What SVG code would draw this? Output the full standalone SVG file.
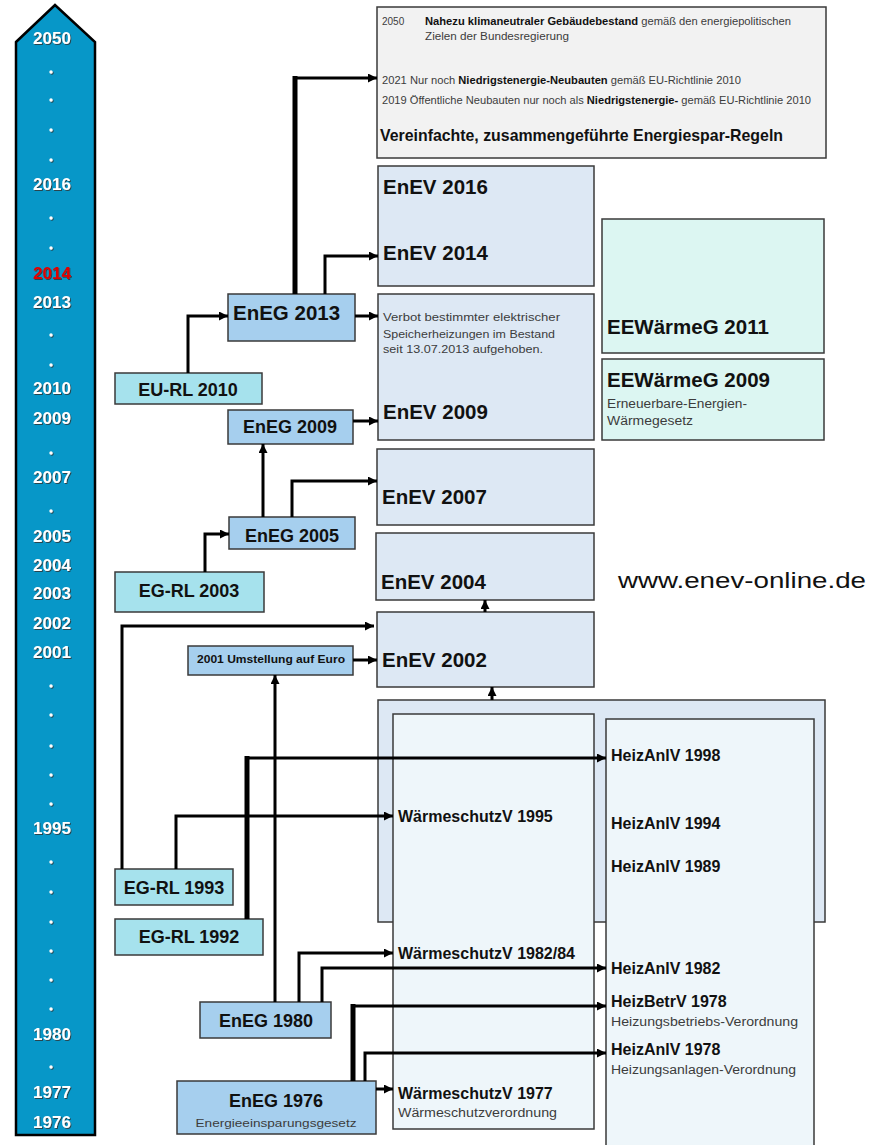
<svg xmlns="http://www.w3.org/2000/svg" width="871" height="1145" viewBox="0 0 871 1145">
<defs>
<style>
text{font-family:"Liberation Sans",Arial,sans-serif;fill:#111}
.b{font-weight:bold}
.yr{font-weight:bold;font-size:17px;fill:#fff;text-anchor:middle}
.red{fill:#e00000}
.dot{fill:#fff}
.bx{stroke:#3a3a3a;stroke-width:1.5}
.eneg{fill:#a6cfee}
.rl{fill:#a6e2ed}
.enev{fill:#dde8f4}
.ee{fill:#dcf6f2}
.inner{fill:#eef6fa}
.grey{fill:#f2f2f2}
.s{fill:#3c3c3c}
.h20{font-weight:bold;font-size:20.5px}
.h18{font-weight:bold;font-size:18px}
.h16{font-weight:bold;font-size:16px}
.c{text-anchor:middle}
.ln{fill:none;stroke:#000;stroke-width:3;stroke-linejoin:miter}
.thick{fill:none;stroke:#000;stroke-width:5}
</style>
<marker id="ah" markerUnits="userSpaceOnUse" markerWidth="9" markerHeight="9" refX="9" refY="4.5" orient="auto">
<path d="M0,0 L9,4.5 L0,9 z" fill="#000"/>
</marker>
<filter id="sh" x="-10%" y="-10%" width="130%" height="140%">
<feDropShadow dx="1" dy="1" stdDeviation="0.6" flood-color="#333" flood-opacity="0.8"/>
</filter>
</defs>

<g id="timeline">
<polygon points="16,42 55,5 95,42 95,1135 16,1135" fill="#0797c8" stroke="#000" stroke-width="2.5"/>
<g filter="url(#sh)">
<text class="yr" x="52" y="44">2050</text>
<circle class="dot" cx="51" cy="72" r="1.7"/>
<circle class="dot" cx="51" cy="100" r="1.7"/>
<circle class="dot" cx="51" cy="130" r="1.7"/>
<circle class="dot" cx="51" cy="160" r="1.7"/>
<text class="yr" x="52" y="190">2016</text>
<circle class="dot" cx="51" cy="218" r="1.7"/>
<circle class="dot" cx="51" cy="248" r="1.7"/>
<text class="yr red" x="52" y="279">2014</text>
<text class="yr" x="52" y="308">2013</text>
<circle class="dot" cx="51" cy="335" r="1.7"/>
<circle class="dot" cx="51" cy="365" r="1.7"/>
<text class="yr" x="52" y="394">2010</text>
<text class="yr" x="52" y="424">2009</text>
<circle class="dot" cx="51" cy="453" r="1.7"/>
<text class="yr" x="52" y="483">2007</text>
<circle class="dot" cx="51" cy="511" r="1.7"/>
<text class="yr" x="52" y="542">2005</text>
<text class="yr" x="52" y="571">2004</text>
<text class="yr" x="52" y="599">2003</text>
<text class="yr" x="52" y="629">2002</text>
<text class="yr" x="52" y="658">2001</text>
<circle class="dot" cx="51" cy="686" r="1.7"/>
<circle class="dot" cx="51" cy="715" r="1.7"/>
<circle class="dot" cx="51" cy="746" r="1.7"/>
<circle class="dot" cx="51" cy="775" r="1.7"/>
<circle class="dot" cx="51" cy="804" r="1.7"/>
<text class="yr" x="52" y="834">1995</text>
<circle class="dot" cx="51" cy="862" r="1.7"/>
<circle class="dot" cx="51" cy="892" r="1.7"/>
<circle class="dot" cx="51" cy="922" r="1.7"/>
<circle class="dot" cx="51" cy="951" r="1.7"/>
<circle class="dot" cx="51" cy="980" r="1.7"/>
<circle class="dot" cx="51" cy="1009" r="1.7"/>
<text class="yr" x="52" y="1040">1980</text>
<circle class="dot" cx="51" cy="1067" r="1.7"/>
<text class="yr" x="52" y="1098">1977</text>
<text class="yr" x="52" y="1128">1976</text>
</g>
</g>

<g id="ziele2050">
<rect class="bx grey" x="377" y="7" width="449" height="151"/>
<text class="s" x="382" y="25" font-size="10">2050</text>
<text class="s" x="425" y="25" font-size="10" textLength="366" lengthAdjust="spacingAndGlyphs"><tspan class="b" fill="#111">Nahezu klimaneutraler Gebäudebestand</tspan> gemäß den energiepolitischen</text>
<text class="s" x="425" y="40" font-size="10" textLength="144" lengthAdjust="spacingAndGlyphs">Zielen  der  Bundesregierung</text>
<text class="s" x="382" y="84" font-size="10" textLength="359" lengthAdjust="spacingAndGlyphs">2021   Nur noch <tspan class="b" fill="#111">Niedrigstenergie-Neubauten</tspan> gemäß EU-Richtlinie 2010</text>
<text class="s" x="382" y="104" font-size="10" textLength="429" lengthAdjust="spacingAndGlyphs">2019 Öffentliche Neubauten nur noch als <tspan class="b" fill="#111">Niedrigstenergie-</tspan> gemäß EU-Richtlinie 2010</text>
<text class="b" x="380" y="141" font-size="17" textLength="403" lengthAdjust="spacingAndGlyphs">Vereinfachte, zusammengeführte Energiespar-Regeln</text>
</g>

<g id="enev2016">
<rect class="bx enev" x="378" y="166" width="216" height="120"/>
<text class="h20" x="383" y="194">EnEV 2016</text>
<text class="h20" x="383" y="260">EnEV 2014</text>
</g>

<g id="enev2009">
<rect class="bx enev" x="378" y="294" width="216" height="146"/>
<text class="s" x="383" y="321" font-size="11" textLength="177" lengthAdjust="spacingAndGlyphs">Verbot bestimmter elektrischer</text>
<text class="s" x="383" y="338" font-size="11" textLength="172" lengthAdjust="spacingAndGlyphs">Speicherheizungen im Bestand</text>
<text class="s" x="383" y="353" font-size="11" textLength="160" lengthAdjust="spacingAndGlyphs">seit 13.07.2013 aufgehoben.</text>
<text class="h20" x="383" y="419">EnEV 2009</text>
</g>

<g id="eewaermeg2011">
<rect class="bx ee" x="602" y="219" width="222" height="134"/>
<text class="b" x="607" y="334" font-size="20.5">EEWärmeG 2011</text>
</g>

<g id="eewaermeg2009">
<rect class="bx ee" x="602" y="359" width="222" height="81"/>
<text class="b" x="607" y="387" font-size="20.5">EEWärmeG 2009</text>
<text class="s" x="607" y="408" font-size="12" textLength="140" lengthAdjust="spacingAndGlyphs">Erneuerbare-Energien-</text>
<text class="s" x="607" y="425" font-size="12" textLength="86" lengthAdjust="spacingAndGlyphs">Wärmegesetz</text>
</g>

<g id="eneg2013">
<rect class="bx eneg" x="228" y="294" width="127" height="47"/>
<text class="h20" x="233" y="320">EnEG 2013</text>
</g>

<g id="eurl2010">
<rect class="bx rl" x="115" y="373" width="147" height="31"/>
<text class="h18 c" x="188" y="396">EU-RL 2010</text>
</g>

<g id="eneg2009">
<rect class="bx eneg" x="228" y="410" width="125" height="34"/>
<text class="h18 c" x="290" y="433">EnEG 2009</text>
</g>

<g id="enev2007">
<rect class="bx enev" x="377" y="449" width="217" height="76"/>
<text class="h20" x="382" y="504">EnEV 2007</text>
</g>

<g id="eneg2005">
<rect class="bx eneg" x="229" y="517" width="126" height="32"/>
<text class="h18 c" x="292" y="542">EnEG 2005</text>
</g>

<g id="egrl2003">
<rect class="bx rl" x="115" y="572" width="149" height="40"/>
<text class="h18 c" x="189" y="597">EG-RL 2003</text>
</g>

<g id="enev2004">
<rect class="bx enev" x="376" y="533" width="218" height="67"/>
<text class="h20" x="381" y="589">EnEV 2004</text>
</g>

<g id="enev2002">
<rect class="bx enev" x="377" y="612" width="217" height="75"/>
<text class="h20" x="382" y="667">EnEV 2002</text>
</g>

<g id="euro2001">
<rect class="bx eneg" x="188" y="646" width="165" height="29"/>
<text class="b c" x="271" y="663" font-size="10" textLength="148" lengthAdjust="spacingAndGlyphs">2001 Umstellung auf Euro</text>
</g>

<g id="www">
<text x="618" y="588" font-size="22" textLength="248" lengthAdjust="spacingAndGlyphs">www.enev-online.de</text>
</g>

<g id="gruppe">
<rect class="bx enev" x="378" y="700" width="447" height="222"/>
</g>

<g id="waermeschutzv">
<rect class="bx inner" x="393" y="714" width="201" height="415"/>
<text class="h16" x="398" y="822">WärmeschutzV 1995</text>
<text class="h16" x="398" y="959">WärmeschutzV 1982/84</text>
<text class="h16" x="398" y="1099">WärmeschutzV 1977</text>
<text class="s" x="398" y="1117" font-size="12" textLength="159" lengthAdjust="spacingAndGlyphs">Wärmeschutzverordnung</text>
</g>

<g id="heizanlv">
<rect class="bx inner" x="606" y="719" width="208" height="440"/>
<text class="h16" x="611" y="761">HeizAnlV 1998</text>
<text class="h16" x="611" y="829">HeizAnlV 1994</text>
<text class="h16" x="611" y="872">HeizAnlV 1989</text>
<text class="h16" x="611" y="974">HeizAnlV 1982</text>
<text class="h16" x="611" y="1007">HeizBetrV 1978</text>
<text class="s" x="611" y="1026" font-size="12" textLength="187" lengthAdjust="spacingAndGlyphs">Heizungsbetriebs-Verordnung</text>
<text class="h16" x="611" y="1055">HeizAnlV 1978</text>
<text class="s" x="611" y="1074" font-size="12" textLength="185" lengthAdjust="spacingAndGlyphs">Heizungsanlagen-Verordnung</text>
</g>

<g id="egrl1993">
<rect class="bx rl" x="115" y="869" width="118" height="36"/>
<text class="h18 c" x="174" y="894">EG-RL 1993</text>
</g>

<g id="egrl1992">
<rect class="bx rl" x="115" y="919" width="148" height="36"/>
<text class="h18 c" x="189" y="943">EG-RL 1992</text>
</g>

<g id="eneg1980">
<rect class="bx eneg" x="200" y="1002" width="131" height="36"/>
<text class="h18 c" x="266" y="1027">EnEG 1980</text>
</g>

<g id="eneg1976">
<rect class="bx eneg" x="177" y="1081" width="199" height="53"/>
<text class="h18 c" x="276" y="1107">EnEG 1976</text>
<text class="s c" x="276" y="1127" font-size="11" textLength="161" lengthAdjust="spacingAndGlyphs">Energieeinsparungsgesetz</text>
</g>

<g id="connectors">
<path class="ln" d="M188,373 V316 H228" marker-end="url(#ah)"/>
<path class="ln" d="M355,316 H378" marker-end="url(#ah)"/>
<path class="ln" d="M325,294 V256 H378" marker-end="url(#ah)"/>
<path class="ln" d="M295,78 H377" marker-end="url(#ah)"/>
<path class="thick" d="M295,294 V76"/>
<path class="ln" d="M353,421 H378" marker-end="url(#ah)"/>
<path class="ln" d="M263,517 V444" marker-end="url(#ah)"/>
<path class="ln" d="M292,517 V481 H377" marker-end="url(#ah)"/>
<path class="ln" d="M205,572 V534 H229" marker-end="url(#ah)"/>
<path class="ln" d="M122,869 V626 H374" marker-end="url(#ah)"/>
<path class="ln" d="M353,660 H377" marker-end="url(#ah)"/>
<path class="ln" d="M485,612 V600" marker-end="url(#ah)"/>
<path class="ln" d="M492,700 V687" marker-end="url(#ah)"/>
<path class="ln" d="M176,869 V816 H393" marker-end="url(#ah)"/>
<path class="ln" d="M247,758 H606" marker-end="url(#ah)"/>
<path class="thick" d="M247,919 V756"/>
<path class="ln" d="M275,1002 V675" marker-end="url(#ah)"/>
<path class="ln" d="M299,1002 V953 H393" marker-end="url(#ah)"/>
<path class="ln" d="M322,1002 V968 H606" marker-end="url(#ah)"/>
<path class="ln" d="M353,1006 H606" marker-end="url(#ah)"/>
<path class="thick" d="M353,1081 V1004"/>
<path class="ln" d="M365,1081 V1053 H606" marker-end="url(#ah)"/>
<path class="ln" d="M376,1089 H393" marker-end="url(#ah)"/>
</g>
</svg>
